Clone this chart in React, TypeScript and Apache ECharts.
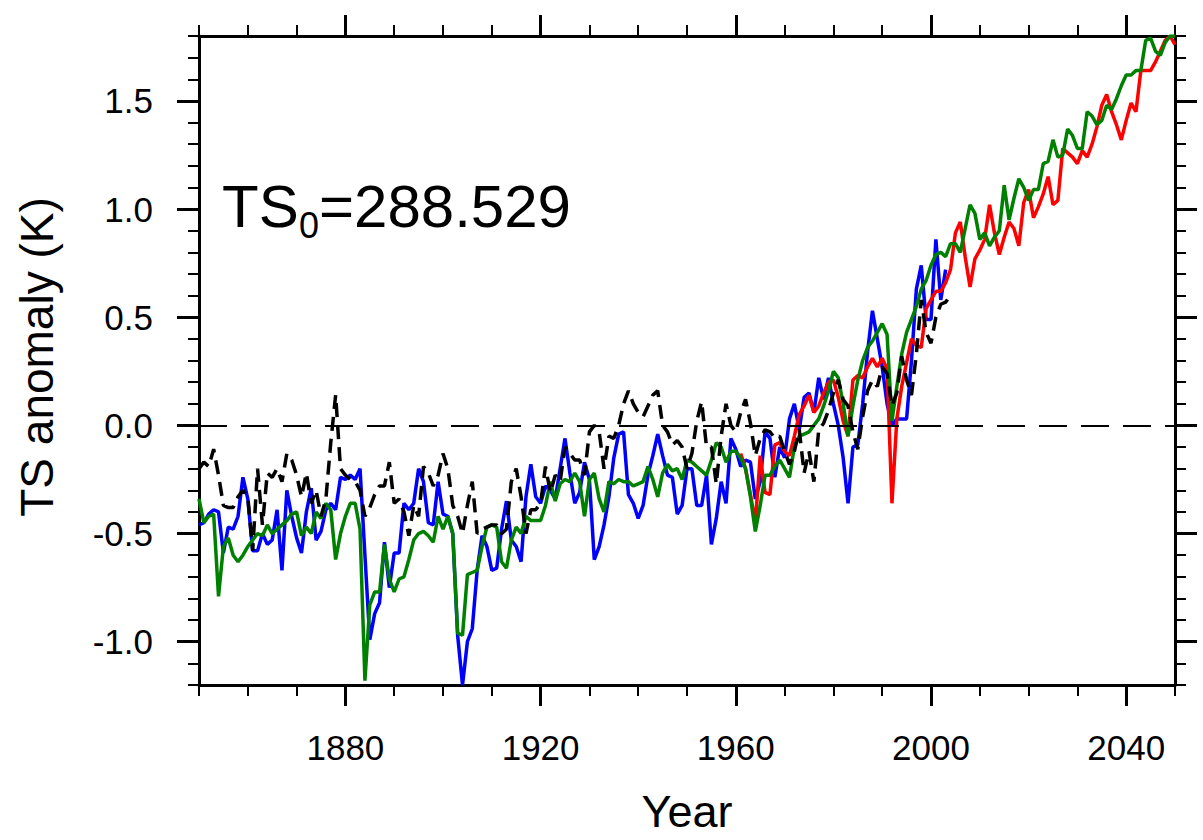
import React, { useEffect, useRef } from "react";
import * as echarts from "echarts";

// ---- data (annual values, K) ----
const BLUE_START = 1850;
const blueValues = [
  -0.46, -0.45, -0.41, -0.39, -0.4, -0.59, -0.47, -0.48, -0.42, -0.24,
  -0.34, -0.58, -0.58, -0.5, -0.55, -0.53, -0.39, -0.67, -0.3, -0.42,
  -0.52, -0.59, -0.4, -0.29, -0.53, -0.49, -0.39, -0.36, -0.39, -0.24,
  -0.25, -0.23, -0.25, -0.2, -0.6, -0.99, -0.87, -0.82, -0.54, -0.75,
  -0.59, -0.59, -0.36, -0.39, -0.36, -0.2, -0.26, -0.45, -0.46, -0.26,
  -0.41, -0.42, -0.5, -0.97, -1.2, -1.0, -0.94, -0.67, -0.51, -0.56,
  -0.67, -0.66, -0.48, -0.35, -0.53, -0.56, -0.63, -0.33, -0.18, -0.33,
  -0.36, -0.28, -0.3, -0.34, -0.2, -0.06, -0.22, -0.36, -0.31, -0.17,
  -0.25, -0.62, -0.56, -0.46, -0.33, -0.15, -0.04, -0.03, -0.32, -0.36,
  -0.43, -0.37, -0.23, -0.14, -0.04, -0.14, -0.23, -0.24, -0.41, -0.37,
  -0.2, -0.2, -0.37, -0.37, -0.23, -0.55, -0.43, -0.26, -0.36, -0.06,
  -0.11, -0.19, -0.16, -0.17, -0.34, -0.26, -0.03, -0.06, -0.24, -0.1,
  -0.15, 0.03, 0.1, -0.02, 0.13, 0.15, 0.06, 0.22, 0.12, 0.22,
  0.1, 0.0, -0.15, -0.36, -0.1, -0.09, 0.1, 0.34, 0.53, 0.4,
  0.27, 0.1, 0.0, 0.03, 0.03, 0.03, 0.3, 0.63, 0.74, 0.49,
  0.49, 0.86, 0.58, 0.72,
];

const GREEN_START = 1850;
const greenValues = [
  -0.34, -0.45, -0.42, -0.41, -0.79, -0.56, -0.52, -0.6, -0.63, -0.6,
  -0.56, -0.53, -0.5, -0.51, -0.46, -0.5, -0.48, -0.46, -0.44, -0.41,
  -0.4, -0.51, -0.47, -0.5, -0.4, -0.43, -0.36, -0.39, -0.62, -0.5,
  -0.42, -0.36, -0.36, -0.48, -1.18, -0.83, -0.77, -0.77, -0.55, -0.71,
  -0.77, -0.71, -0.7, -0.62, -0.53, -0.5, -0.49, -0.51, -0.54, -0.42,
  -0.48, -0.42, -0.5, -0.96, -0.97, -0.69, -0.68, -0.67, -0.56, -0.47,
  -0.46, -0.47, -0.63, -0.66, -0.53, -0.47, -0.5, -0.42, -0.44, -0.44,
  -0.44, -0.37, -0.26, -0.35, -0.27, -0.25, -0.26, -0.22, -0.26, -0.42,
  -0.25, -0.22, -0.34, -0.4, -0.26, -0.27, -0.25, -0.26, -0.26, -0.28,
  -0.27, -0.26, -0.19, -0.25, -0.33, -0.22, -0.18, -0.21, -0.2, -0.25,
  -0.16, -0.17, -0.19, -0.21, -0.23, -0.16, -0.08, -0.1, -0.17, -0.12,
  -0.12, -0.15, -0.2, -0.33, -0.49, -0.37, -0.23, -0.23, -0.19, -0.16,
  -0.2, -0.24, -0.1, -0.05, -0.04, -0.03, 0.0, 0.03, 0.09, 0.16,
  0.25, 0.22, 0.1, -0.05, 0.09, 0.21, 0.3, 0.36, 0.39, 0.43,
  0.47, 0.42, 0.02, 0.18, 0.33, 0.43, 0.49, 0.55, 0.63, 0.67,
  0.74, 0.79, 0.8, 0.78, 0.84, 0.84, 0.8, 0.91, 1.02, 0.98,
  0.86, 0.89, 0.83, 0.87, 0.9, 1.11, 0.95, 1.05, 1.14, 1.1,
  1.04, 1.09, 1.09, 1.21, 1.22, 1.32, 1.24, 1.25, 1.37, 1.34,
  1.28, 1.28, 1.45, 1.43, 1.39, 1.41, 1.48, 1.46, 1.51, 1.57,
  1.62, 1.62, 1.64, 1.64, 1.78, 1.79, 1.73, 1.71, 1.77, 1.8,
  1.8,
];

const RED_START = 1961;
const redValues = [
  -0.13, -0.2, -0.32, -0.45, -0.14, -0.31, -0.32, -0.09, -0.08,
  -0.12, -0.14, -0.05, 0.05, 0.09, 0.14, 0.06, 0.09, 0.15, 0.2,
  0.21, 0.13, 0.02, -0.05, 0.21, 0.23, 0.22, 0.27, 0.31, 0.27,
  0.31, 0.26, -0.36, 0.03, 0.18, 0.29, 0.4, 0.37, 0.36, 0.54,
  0.58, 0.62, 0.62, 0.66, 0.72, 0.89, 0.94, 0.78, 0.64, 0.77,
  0.81, 0.86, 1.02, 0.89, 0.79, 0.87, 0.94, 0.91, 0.83, 1.03,
  1.09, 0.96, 1.01, 1.07, 1.15, 1.02, 1.04, 1.28, 1.26, 1.24,
  1.21, 1.27, 1.24, 1.3, 1.38, 1.48, 1.53, 1.45, 1.39, 1.32,
  1.41, 1.49, 1.45, 1.64, 1.64, 1.64, 1.68, 1.73, 1.78, 1.8,
  1.76,
];

const BLACK_START = 1850;
const blackValues = [
  -0.2, -0.17, -0.19, -0.11, -0.23, -0.37, -0.38, -0.38, -0.33, -0.3,
  -0.33, -0.58, -0.2, -0.46, -0.22, -0.24, -0.2, -0.26, -0.13, -0.16,
  -0.23, -0.33, -0.22, -0.36, -0.3, -0.42, -0.34, -0.08, 0.14, -0.2,
  -0.23, -0.25, -0.26, -0.3, -0.42, -0.38, -0.32, -0.28, -0.28, -0.17,
  -0.36, -0.34, -0.4, -0.51, -0.37, -0.42, -0.19, -0.22, -0.28, -0.23,
  -0.13, -0.2, -0.37, -0.42, -0.5, -0.37, -0.26, -0.5, -0.48, -0.47,
  -0.46, -0.46, -0.5, -0.48, -0.26, -0.2, -0.33, -0.5, -0.39, -0.39,
  -0.36, -0.19, -0.31, -0.23, -0.26, -0.1, -0.13, -0.16, -0.16, -0.23,
  -0.03, 0.0, -0.03, -0.2, -0.05, -0.06, 0.0, 0.1, 0.16, 0.1,
  0.06, 0.04, 0.09, 0.14, 0.16, 0.0, -0.03, -0.09, -0.07, -0.1,
  -0.2, -0.13, 0.02, 0.11, -0.1, -0.1, -0.27, -0.05, 0.1, 0.0,
  -0.03, 0.06, 0.12, 0.01, -0.14, -0.06, -0.02, -0.03, -0.06, -0.05,
  -0.12, -0.18, -0.12, -0.02, -0.22, -0.12, -0.26, -0.02, 0.01, 0.07,
  0.15, 0.21, 0.12, 0.09, -0.03, -0.11, 0.04, 0.16, 0.21, 0.18,
  0.27, 0.24, 0.09, 0.15, 0.32, 0.21, 0.14, 0.33, 0.58, 0.43,
  0.38, 0.5, 0.56, 0.57, 0.6,
];

// ---- axis ticks / labels ----
const X_MIN = 1850;
const X_MAX = 2050;
const Y_MIN = -1.2;
const Y_MAX = 1.8;
const xMajorTicks = [1880, 1920, 1960, 2000, 2040];
const xMinorTicks = [
  1850, 1860, 1870, 1890, 1900, 1910, 1930, 1940, 1950, 1970, 1980, 1990,
  2010, 2020, 2030, 2050,
];
const yMajorTicks = [-1.0, -0.5, 0.0, 0.5, 1.0, 1.5];
const yMinorTicks = [
  -1.2, -1.1, -0.9, -0.8, -0.7, -0.6, -0.4, -0.3, -0.2, -0.1, 0.1, 0.2, 0.3,
  0.4, 0.6, 0.7, 0.8, 0.9, 1.1, 1.2, 1.3, 1.4, 1.6, 1.7, 1.8,
];
const zeroLevel = [0];

const TITLE_X = "Year";
const TITLE_Y = "TS anomaly (K)";
const TS0_VALUE = "288.529";

const FONT = "'Liberation Sans', Arial, Helvetica, sans-serif";

const toPairs = (start: number, vals: number[]) =>
  vals.map((v, i) => [start + i, v]);

function makeXAxis(position: "top" | "bottom", major: boolean, labels: boolean) {
  return {
    type: "value",
    min: X_MIN,
    max: X_MAX,
    position,
    axisLine: {
      show: major,
      onZero: false,
      lineStyle: { color: "#000", width: 3 },
    },
    axisTick: {
      show: true,
      inside: false,
      length: major ? 21 : 11,
      customValues: major ? xMajorTicks : xMinorTicks,
      lineStyle: { color: "#000", width: major ? 3 : 2 },
    },
    axisLabel: labels
      ? {
          show: true,
          customValues: xMajorTicks,
          margin: 45,
          fontSize: 35,
          fontFamily: FONT,
          color: "#000",
          formatter: (v: number) => String(Math.round(v)),
        }
      : { show: false },
    splitLine: { show: false },
    minorTick: { show: false },
  };
}

function makeYAxis(position: "left" | "right", major: boolean, labels: boolean) {
  return {
    type: "value",
    min: Y_MIN,
    max: Y_MAX,
    position,
    axisLine: {
      show: major,
      onZero: false,
      lineStyle: { color: "#000", width: 3 },
    },
    axisTick: {
      show: true,
      inside: false,
      length: major ? 22 : 11,
      customValues: major ? yMajorTicks : yMinorTicks,
      lineStyle: { color: "#000", width: major ? 3 : 2 },
    },
    axisLabel: labels
      ? {
          show: true,
          customValues: yMajorTicks,
          margin: 46,
          fontSize: 35,
          fontFamily: FONT,
          color: "#000",
          formatter: (v: number) => v.toFixed(1),
        }
      : { show: false },
    splitLine: { show: false },
    minorTick: { show: false },
  };
}

export default function App() {
  const ref = useRef<HTMLDivElement>(null);

  useEffect(() => {
    if (!ref.current) return;
    const chart = echarts.init(ref.current, null, { renderer: "svg" });

    const lineSeries = (
      name: string,
      data: number[][],
      color: string,
      dash?: number[]
    ) => ({
      name,
      type: "line",
      data,
      xAxisIndex: 0,
      yAxisIndex: 0,
      showSymbol: false,
      symbol: "none",
      clip: true,
      lineStyle: { color, width: 3.5, type: dash ? dash : "solid" },
      emphasis: { disabled: true },
      z: 3,
    });

    chart.setOption({
      animation: false,
      backgroundColor: "#fff",
      grid: {
        left: 199,
        right: 28,
        top: 36,
        bottom: 155,
        containLabel: false,
        outerBoundsMode: "none",
      },
      xAxis: [
        makeXAxis("bottom", true, true),
        makeXAxis("bottom", false, false),
        makeXAxis("top", true, false),
        makeXAxis("top", false, false),
      ],
      yAxis: [
        makeYAxis("left", true, true),
        makeYAxis("left", false, false),
        makeYAxis("right", true, false),
        makeYAxis("right", false, false),
      ],
      series: [
        {
          ...lineSeries("blue", toPairs(BLUE_START, blueValues), "#0000ff"),
          markLine: {
            silent: true,
            symbol: "none",
            label: { show: false },
            lineStyle: { color: "#000", width: 2, type: [28, 14] },
            data: zeroLevel.map((v) => ({ yAxis: v })),
          },
        },
        lineSeries("red", toPairs(RED_START, redValues), "#ff0000"),
        lineSeries("green", toPairs(GREEN_START, greenValues), "#008000"),
        lineSeries("obs", toPairs(BLACK_START, blackValues), "#000000", [14, 8]),
      ],
      graphic: [
        {
          type: "text",
          x: 37,
          y: 357,
          rotation: Math.PI / 2,
          style: {
            text: TITLE_Y,
            fontSize: 46,
            fontFamily: FONT,
            fill: "#000",
            align: "center",
            verticalAlign: "middle",
            textAlign: "center",
            textVerticalAlign: "middle",
          },
        },
        {
          type: "text",
          x: 687,
          y: 811,
          style: {
            text: TITLE_X,
            fontSize: 45,
            fontFamily: FONT,
            fill: "#000",
            align: "center",
            verticalAlign: "middle",
            textAlign: "center",
            textVerticalAlign: "middle",
          },
        },
        {
          type: "text",
          x: 222,
          y: 206,
          style: {
            text: "TS",
            fontSize: 60,
            fontFamily: FONT,
            fill: "#000",
            align: "left",
            verticalAlign: "middle",
            textAlign: "left",
            textVerticalAlign: "middle",
          },
        },
        {
          type: "text",
          x: 299,
          y: 225,
          style: {
            text: "0",
            fontSize: 36,
            fontFamily: FONT,
            fill: "#000",
            align: "left",
            verticalAlign: "middle",
            textAlign: "left",
            textVerticalAlign: "middle",
          },
        },
        {
          type: "text",
          x: 319,
          y: 206,
          style: {
            text: "=" + TS0_VALUE,
            fontSize: 60,
            fontFamily: FONT,
            fill: "#000",
            align: "left",
            verticalAlign: "middle",
            textAlign: "left",
            textVerticalAlign: "middle",
          },
        },
      ],
    });

    return () => chart.dispose();
  }, []);

  return (
    <div
      ref={ref}
      style={{
        position: "absolute",
        left: 0,
        top: 0,
        width: 1203,
        height: 840,
        background: "#fff",
      }}
    />
  );
}
